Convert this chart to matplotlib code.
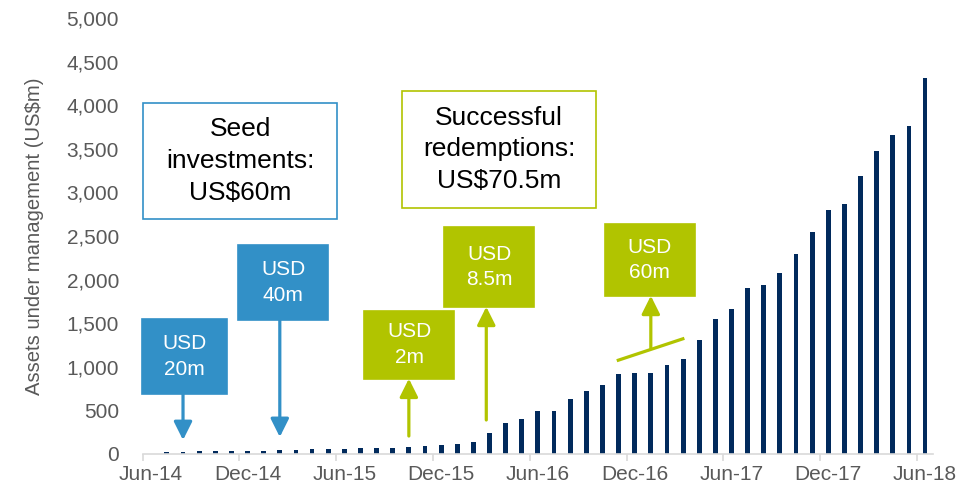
import numpy as np
import matplotlib.pyplot as plt
from matplotlib.patches import Rectangle

plt.rcParams['font.family'] = ['Liberation Sans', 'DejaVu Sans']

# Monthly assets under management, Jun-14 .. Jun-18 (US$m)
aum = [5, 23, 27, 31, 31, 38, 38, 38, 42, 50, 54, 57, 57, 65, 65, 73, 77, 92,
       100, 111, 138, 241, 350, 405, 492, 497, 631, 723, 788, 914, 925, 933,
       1025, 1090, 1311, 1548, 1663, 1900, 1938, 2072, 2294, 2550, 2802, 2863,
       3185, 3478, 3662, 3761, 4310]
tick_labels = ['Jun-14', 'Dec-14', 'Jun-15', 'Dec-15', 'Jun-16', 'Dec-16',
               'Jun-17', 'Dec-17', 'Jun-18']
yticks = [0, 500, 1000, 1500, 2000, 2500, 3000, 3500, 4000, 4500, 5000]

# flows: label, month index of the event
seed_flows = [('USD\n20m', 2), ('USD\n40m', 8)]
redemption_flows = [('USD\n2m', 16), ('USD\n8.5m', 21), ('USD\n60m', 31)]

navy = '#012A5C'
blue = '#3290C7'
green = '#B1C400'
grey = '#595959'

fig = plt.figure(figsize=(9.72, 4.9), dpi=100)
ax = fig.add_axes([0.1468, 0.0735, 0.8132, 0.8895])

x = np.arange(len(aum))
ax.bar(x, aum, width=0.3, color=navy, zorder=2)

ax.set_xlim(-0.5, len(aum) - 0.5)
ax.set_ylim(0, 5000)
ax.set_yticks(yticks)
ax.set_yticklabels(['{:,}'.format(v) for v in yticks])
ax.tick_params(axis='y', length=0, pad=17, labelsize=15, labelcolor=grey)

ax.set_xticks(x[::6])
ax.set_xticklabels(tick_labels)
ax.set_xticks(x[::6] - 0.5, minor=True)
ax.tick_params(axis='x', which='major', length=0, pad=8, labelsize=15, labelcolor=grey)
ax.tick_params(axis='x', which='minor', length=5, width=1.2, color='#D9D9D9')

for side in ['top', 'right', 'left']:
    ax.spines[side].set_visible(False)
ax.spines['bottom'].set_color('#D9D9D9')
ax.spines['bottom'].set_linewidth(1.2)

ax.set_ylabel('Assets under management (US$m)', fontsize=14.6, color=grey, labelpad=16)


def box(x0, x1, y0, y1, text, face, edge, tcolor, size, spacing):
    ax.add_patch(Rectangle((x0, y0), x1 - x0, y1 - y0, facecolor=face,
                           edgecolor=edge, linewidth=1.2, zorder=4, clip_on=False))
    ax.text((x0 + x1) / 2, (y0 + y1) / 2, text, ha='center', va='center',
            color=tcolor, fontsize=size, zorder=5, linespacing=spacing)


def arrow(xpos, y_from, y_to, color):
    ax.annotate('', xy=(xpos, y_to), xytext=(xpos, y_from),
                arrowprops=dict(arrowstyle='-|>,head_length=1.1,head_width=0.55',
                                mutation_scale=10, lw=2.3, color=color,
                                shrinkA=0, shrinkB=0), zorder=3)


# summary boxes
box(-0.48, 11.55, 2695, 4025, 'Seed\ninvestments:\nUS$60m', 'white', blue, 'black', 19, 1.4)
box(15.57, 27.6, 2825, 4163, 'Successful\nredemptions:\nUS$70.5m', 'white', green, 'black', 19, 1.4)

# seed investments: boxes with arrows pointing down to the month
seed_boxes = [(-0.56, 4.75, 692, 1545), (5.43, 10.97, 1540, 2397)]
seed_tips = [160, 195]
for (label, m), (x0, x1, y0, y1), tip in zip(seed_flows, seed_boxes, seed_tips):
    box(x0, x1, y0, y1, label, blue, blue, 'white', 15, 1.45)
    arrow(m, y0, tip, blue)

# redemptions: arrows pointing up from the month to the box
red_boxes = [(13.22, 18.8, 864, 1640), (18.2, 23.74, 1689, 2603), (28.16, 33.72, 1815, 2638)]
red_starts = [206, 390, 1216]
for (label, m), (x0, x1, y0, y1), start in zip(redemption_flows, red_boxes, red_starts):
    box(x0, x1, y0, y1, label, green, green, 'white', 15, 1.45)
    arrow(m - 0.2 if m == 21 else m, start, y0, green)

# slanted marker under the last redemption
ax.plot([28.89, 33.08], [1070, 1327], color=green, lw=2.3, solid_capstyle='butt', zorder=3)

fig.savefig('out.png', dpi=100)
